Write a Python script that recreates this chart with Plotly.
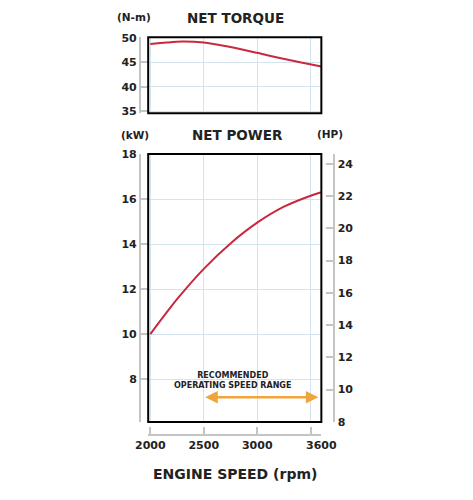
import plotly.graph_objects as go

# Engine performance curves
rpm = [2000, 2150, 2300, 2500, 2700, 2900, 3000, 3200, 3400, 3600]
torque_nm = [48.7, 49.0, 49.2, 49.0, 48.3, 47.4, 46.9, 45.9, 45.0, 44.1]

power_rpm = [2000, 2250, 2500, 2750, 3000, 3250, 3500, 3600]
power_kw = [10.0, 11.55, 12.9, 14.03, 14.95, 15.66, 16.15, 16.3]

# recommended operating speed range (rpm) and where the arrow sits (kW)
speed_range = [2500, 3600]
arrow_kw = 7.2

x_ticks = [2000, 2500, 3000, 3500, 3600]
x_ticktext = ['2000', '2500', '3000', '', '3600']
torque_ticks = [35, 40, 45, 50]
kw_ticks = [8, 10, 12, 14, 16, 18]
hp_ticks = [8, 10, 12, 14, 16, 18, 20, 22, 24]

RED = '#c9283e'
ORANGE = '#f0a43c'
GREY = '#c4c4c4'
GRID = '#d3e4ef'
TXT = '#222222'
FONT = 'DejaVu Sans'

fig = go.Figure()

fig.add_trace(go.Scatter(x=rpm, y=torque_nm, mode='lines',
                         line=dict(color=RED, width=2, shape='spline', smoothing=0.8),
                         xaxis='x', yaxis='y', hoverinfo='x+y'))
fig.add_trace(go.Scatter(x=power_rpm, y=power_kw, mode='lines',
                         line=dict(color=RED, width=2, shape='spline', smoothing=0.8),
                         xaxis='x', yaxis='y2', hoverinfo='x+y'))
# invisible trace so the HP axis gets drawn
fig.add_trace(go.Scatter(x=[power_rpm[0]], y=[hp_ticks[0]], mode='markers', marker=dict(opacity=0),
                         xaxis='x', yaxis='y3', hoverinfo='skip'))

tickfont = dict(family=FONT, size=11, color=TXT, weight=700)
axis_common = dict(showline=True, linecolor=GREY, linewidth=2, ticks='inside', ticklen=7,
                   tickcolor=GREY, tickwidth=2, tickfont=tickfont, zeroline=False, fixedrange=True)

layout = dict(
    width=473, height=500,
    margin=dict(l=0, r=0, t=0, b=0),
    paper_bgcolor='white', plot_bgcolor='white',
    showlegend=False,
    xaxis=dict(domain=[0.3045, 0.6945], range=[1980, 3600], tickvals=x_ticks, ticktext=x_ticktext,
               anchor='free', position=0.12, showgrid=True, gridcolor=GRID, gridwidth=1, **axis_common),
    yaxis=dict(domain=[0.78, 0.936], range=[34.6, 50.1], tickvals=torque_ticks,
               anchor='free', position=0.286, showgrid=True, gridcolor=GRID, **axis_common),
    yaxis2=dict(domain=[0.146, 0.696], range=[6.1, 18.0], tickvals=kw_ticks,
                anchor='free', position=0.286, showgrid=True, gridcolor=GRID, **axis_common),
    yaxis3=dict(domain=[0.146, 0.696], range=[8, 24.6], tickvals=hp_ticks, overlaying='y2', side='right',
                anchor='free', position=0.724, showgrid=False, **axis_common),
)
fig.update_layout(layout)

# black frames round both plots
for yref in ['y domain', 'y2 domain']:
    fig.add_shape(type='rect', xref='x domain', yref=yref, x0=0, x1=1, y0=0, y1=1,
                  line=dict(color='black', width=2), layer='above')

title_font = dict(family=FONT, size=13.5, color=TXT, weight=700)
unit_font = dict(family=FONT, size=10.5, color=TXT, weight=700)
labels = [
    dict(text='NET TORQUE', x=0.501, y=0.976, font=title_font),
    dict(text='NET POWER', x=0.505, y=0.736, font=title_font),
    dict(text='(N-m)', x=0.272, y=0.978, font=unit_font),
    dict(text='(kW)', x=0.275, y=0.736, font=unit_font),
    dict(text='(HP)', x=0.715, y=0.738, font=unit_font),
    dict(text='ENGINE SPEED (rpm)', x=0.5, y=0.04, font=dict(family=FONT, size=14, color=TXT, weight=700)),
    dict(text='RECOMMENDED<br>OPERATING SPEED RANGE', x=0.495, y=0.232,
         font=dict(family=FONT, size=8, color=TXT, weight=700)),
]
for lab in labels:
    fig.add_annotation(xref='paper', yref='paper', showarrow=False, xanchor='center', yanchor='middle', **lab)

# double headed arrow for the operating range
fig.add_annotation(x=speed_range[1], y=arrow_kw, ax=speed_range[0], ay=arrow_kw,
                   xref='x', yref='y2', axref='x', ayref='y2', text='', showarrow=True,
                   arrowhead=2, startarrowhead=2, arrowside='end+start', arrowsize=1,
                   arrowwidth=2.5, arrowcolor=ORANGE, standoff=3, startstandoff=0)

# drop the default body margin so the figure sits at the window's corner
fig.write_html('out.html', config={'displayModeBar': False},
               post_script="document.body.style.margin='0';")
